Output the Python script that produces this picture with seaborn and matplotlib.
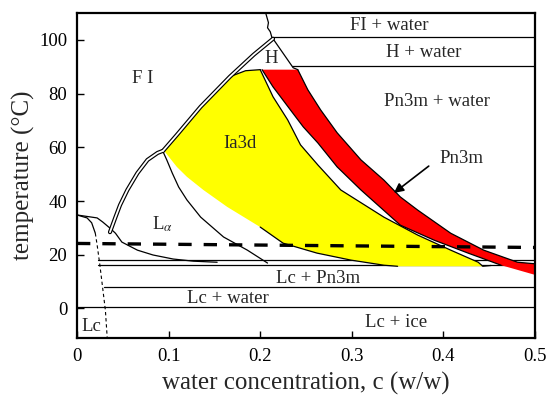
import matplotlib
matplotlib.use("Agg")
import matplotlib.pyplot as plt
import seaborn as sns

# ---------------- data (c = water fraction w/w, T = temperature degC) ----------------
x_ticks = [0, 0.1, 0.2, 0.3, 0.4, 0.5]
x_tick_labels = ["0", "0.1", "0.2", "0.3", "0.4", "0.5"]
y_ticks = [0, 20, 40, 60, 80, 100]
y_tick_labels = ["0", "20", "40", "60", "80", "100"]

# FI / L-alpha boundary (double line)
fi_la_c = [0.036, 0.042, 0.047, 0.055, 0.066, 0.077, 0.088, 0.094]
fi_la_T = [28.4, 34.0, 38.5, 44.1, 50.4, 55.3, 57.9, 58.7]
# FI / Ia3d / H boundary (double line)
fi_cub_c = [0.094, 0.109, 0.135, 0.167, 0.193, 0.214]
fi_cub_T = [58.7, 64.6, 75.1, 86.3, 94.5, 100.4]
# wavy FI / FI+water boundary
fi_w_c = [0.206, 0.209, 0.208, 0.211, 0.213]
fi_w_T = [110.0, 106.4, 104.5, 103.0, 100.6]
# H / H+water boundary
h_w_c = [0.214, 0.236, 0.241]
h_w_T = [100.4, 89.6, 88.9]
# Lc boundary from the left (solid then dotted)
lc_top_c = [0.0, 0.011, 0.016, 0.020]
lc_top_T = [34.8, 33.7, 31.9, 28.0]
lc_dot_c = [0.020, 0.022, 0.025, 0.031, 0.033]
lc_dot_T = [28.0, 23.6, 16.1, -0.7, -11.0]
# L-alpha lower boundary
la_low_c = [0.0, 0.022, 0.028, 0.036, 0.042, 0.049, 0.066, 0.083, 0.105, 0.127, 0.153]
la_low_T = [34.8, 33.7, 32.2, 29.9, 28.0, 24.7, 21.7, 19.9, 18.4, 17.6, 17.2]
# L-alpha / (L-alpha + Ia3d) boundary
la_cub_c = [0.094, 0.098, 0.104, 0.111, 0.120, 0.135, 0.160, 0.186, 0.208]
la_cub_T = [58.3, 55.3, 50.4, 45.2, 40.4, 34.0, 26.6, 21.7, 16.9]
# Ia3d (yellow) region
ia3d_top_c = [0.167, 0.184, 0.200]
ia3d_top_T = [86.3, 88.5, 88.9]
ia3d_right_c = [0.200, 0.214, 0.230, 0.244, 0.263, 0.288, 0.335, 0.372, 0.408, 0.438, 0.443]
ia3d_right_T = [88.9, 78.8, 70.2, 60.9, 53.4, 44.1, 34.0, 27.3, 21.7, 17.2, 15.7]
ia3d_left_c = [0.350, 0.335, 0.299, 0.262, 0.225, 0.200, 0.164, 0.138, 0.120, 0.109, 0.096]
ia3d_left_T = [15.7, 16.1, 18.0, 20.6, 24.3, 30.3, 37.8, 44.1, 49.0, 52.7, 58.3]
# Pn3m (red) region
pn_up_c = [0.241, 0.252, 0.266, 0.284, 0.310, 0.335, 0.353, 0.372, 0.408, 0.444, 0.481, 0.501]
pn_up_T = [88.9, 81.4, 73.9, 65.4, 55.3, 47.8, 41.5, 36.6, 28.0, 21.7, 17.2, 16.6]
pn_low_c = [0.501, 0.463, 0.427, 0.390, 0.353, 0.310, 0.284, 0.263, 0.247, 0.233, 0.214, 0.202]
pn_low_T = [12.4, 16.1, 20.6, 25.4, 31.0, 44.1, 52.7, 61.6, 67.6, 73.9, 82.5, 88.9]
# horizontal phase lines: (T, c_start, c_end)
h_lines_T = [100.9, 90.1, 18.0, 16.1, 7.9, 0.5]
h_lines_c0 = [0.213, 0.235, 0.023, 0.023, 0.030, 0.0]
h_lines_c1 = [0.5, 0.5, 0.5, 0.5, 0.5, 0.5]
# thick dashed line
dash_c = [0.0, 0.5]
dash_T = [24.2, 22.7]
# labels
labels = ["F I", "Ia3d", "H", "FI + water", "H + water", "Pn3m + water", "Pn3m",
          r"L$_\alpha$", "Lc + Pn3m", "Lc + water", "Lc + ice", "Lc"]
labels_c = [0.072, 0.178, 0.212, 0.341, 0.378, 0.393, 0.420, 0.093, 0.263, 0.165, 0.348, 0.016]
labels_T = [85.5, 61.3, 93.2, 105.3, 95.1, 77.0, 56.0, 31.5, 11.2, 3.7, -5.4, -6.9]
arrow_tail = (0.384, 53.0)
arrow_head = (0.346, 43.0)

# ---------------- style ----------------
sns.set_theme(style="ticks")
plt.rcParams["font.family"] = ["Liberation Serif", "DejaVu Serif"]
plt.rcParams["mathtext.fontset"] = "stix"

fig = plt.figure(figsize=(5.48, 4.03), dpi=100)
ax = fig.add_axes([0.1405, 0.1613, 0.8358, 0.8065])


def line(c, t, color="black", lw=0.9, z=3, **kw):
    sns.lineplot(x=c, y=t, sort=False, estimator=None, ax=ax, color=color,
                 linewidth=lw, legend=False, zorder=z, **kw)


def double(c, t):
    line(c, t, lw=3.0, z=5)
    line(c, t, color="white", lw=1.3, z=6)


# horizontal lines (under fills)
for T, c0, c1 in zip(h_lines_T, h_lines_c0, h_lines_c1):
    line([c0, c1], [T, T], lw=0.9, z=1)

# fills
ax.fill(fi_cub_c[:4] + ia3d_top_c[1:] + ia3d_right_c[1:] + ia3d_left_c,
        fi_cub_T[:4] + ia3d_top_T[1:] + ia3d_right_T[1:] + ia3d_left_T,
        color="#ffff00", lw=0, zorder=2)
ax.fill(pn_up_c + pn_low_c, pn_up_T + pn_low_T, color="#ff0000", lw=0, zorder=2)

# boundary lines
line(ia3d_top_c, ia3d_top_T)
line(ia3d_right_c + [0.452], ia3d_right_T + [16.0])
line(pn_up_c, pn_up_T)
line(pn_low_c[1:], pn_low_T[1:])
line(ia3d_left_c[:6], ia3d_left_T[:6])
line(la_low_c, la_low_T)
line(la_cub_c, la_cub_T)
line(lc_top_c, lc_top_T)
line(lc_dot_c, lc_dot_T, lw=0.8, linestyle=(0, (3, 2.5)))
line(fi_w_c, fi_w_T)
line(h_w_c, h_w_T)
double(fi_la_c, fi_la_T)
double(fi_cub_c, fi_cub_T)

# thick dashed line
line(dash_c, dash_T, lw=2.4, z=7, linestyle=(0, (4, 3.6)))

# labels
for s, c, T in zip(labels, labels_c, labels_T):
    ax.text(c, T, s, ha="center", va="center", fontsize=13.5, zorder=8)
ax.annotate("", xy=arrow_head, xytext=arrow_tail,
            arrowprops=dict(arrowstyle="-|>", color="black", lw=1.2,
                            mutation_scale=14, shrinkA=0, shrinkB=0), zorder=8)

ax.set_xlim(0, 0.5)
ax.set_ylim(-11, 110)
ax.set_xticks(x_ticks)
ax.set_xticklabels(x_tick_labels)
ax.set_yticks(y_ticks)
ax.set_yticklabels(y_tick_labels)
ax.tick_params(direction="in", length=5, width=1, labelsize=13.5, pad=7,
               colors="black", top=False, right=False)
for sp in ax.spines.values():
    sp.set_linewidth(1.6)
    sp.set_color("black")
    sp.set_visible(True)
ax.set_xlabel("water concentration, c (w/w)", fontsize=18, labelpad=5)
ax.set_ylabel("temperature (°C)", fontsize=18, labelpad=3)

fig.savefig("out.png", dpi=100)
